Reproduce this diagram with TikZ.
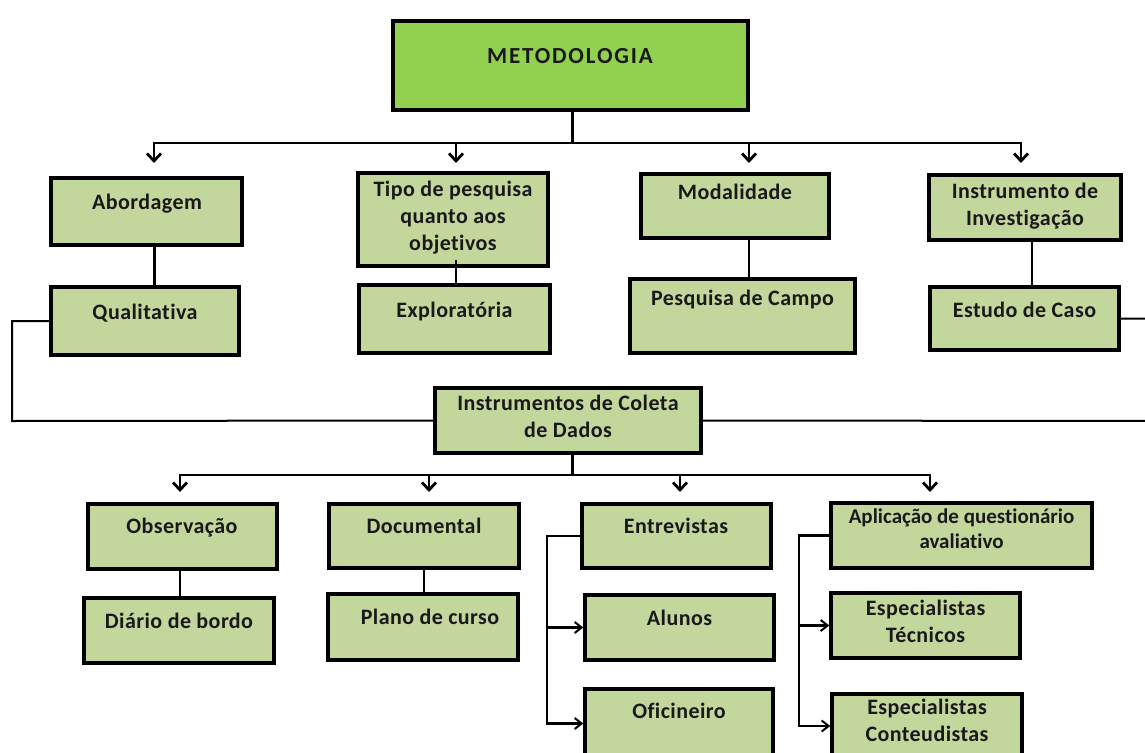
\documentclass[tikz,border=0pt]{standalone}
\usepackage{fontspec}
\setmainfont{Carlito}[Ligatures=NoCommon]
\usetikzlibrary{arrows.meta,calc}
\definecolor{boxgreen}{HTML}{C3D69B}
\definecolor{topgreen}{HTML}{92D050}
\tikzset{
  box/.style={draw=black, line width=3.5pt, fill=boxgreen, inner sep=0pt, rectangle},
  topbox/.style={box, fill=topgreen},
  lbl/.style={font=\fontsize{22}{27}\selectfont\bfseries\addfontfeature{LetterSpace=2}, align=center, inner sep=0pt, anchor=north, text=black!90, execute at begin node=\strut},
  conn/.style={line width=2pt},
  connthick/.style={line width=3pt},
  arr/.style={line width=2pt, -{Straight Barb[length=7.5pt,width=14pt,line width=2.8pt]}},
  arrs/.style={line width=2.5pt, -{Straight Barb[length=7pt,width=11pt,line width=2pt]}},
}
\begin{document}
\begin{tikzpicture}[x=1pt,y=-1pt]
\useasboundingbox (0,0) rectangle (1145,752);
\fill[white] (0,0) rectangle (1145,752);

% ---- boxes
\node[topbox, minimum width=355, minimum height=89] (meto) at (570.5,65.5) {};
\node[box, minimum width=191, minimum height=67] (abord) at (146.5,211.5) {};
\node[box, minimum width=188, minimum height=68] (quali) at (145,321) {};
\node[box, minimum width=190, minimum height=93] (tipo) at (453,219.5) {};
\node[box, minimum width=191, minimum height=68] (explo) at (454.5,319) {};
\node[box, minimum width=188, minimum height=64] (modal) at (735,206) {};
\node[box, minimum width=225, minimum height=74] (pesq) at (742.5,316) {};
\node[box, minimum width=192, minimum height=65] (instr) at (1025,207.5) {};
\node[box, minimum width=189, minimum height=63] (estudo) at (1024.5,318.5) {};
\node[box, minimum width=266, minimum height=65] (coleta) at (568,420.5) {};
\node[box, minimum width=189, minimum height=65] (obs) at (182.5,536.5) {};
\node[box, minimum width=190, minimum height=65] (diario) at (179,630.5) {};
\node[box, minimum width=190, minimum height=64] (docum) at (424,536) {};
\node[box, minimum width=190, minimum height=66] (plano) at (423,627) {};
\node[box, minimum width=189, minimum height=64] (entrev) at (676.5,536) {};
\node[box, minimum width=189, minimum height=65] (alunos) at (679.5,627.5) {};
\node[box, minimum width=188, minimum height=69] (ofic) at (679,723.5) {};
\node[box, minimum width=261, minimum height=65] (aplic) at (961.5,535.5) {};
\node[box, minimum width=189, minimum height=65] (esptec) at (925.5,625.5) {};
\node[box, minimum width=190, minimum height=64] (espcont) at (927,726) {};

% ---- coordinates
\coordinate (mj) at (572,143);
\coordinate (t1) at (154,163);
\coordinate (t2) at (456,163);
\coordinate (t3) at (749,163);
\coordinate (t4) at (1021,163);
\coordinate (cj) at (572,475);
\coordinate (u1) at (180,492);
\coordinate (u2) at (429,492);
\coordinate (u3) at (680,492);
\coordinate (u4) at (930,492);
\coordinate (lc) at (12,421);
\coordinate (rc) at (1150,421);
\coordinate (eb) at (547,0);
\coordinate (ab) at (799,0);

% ---- connectors
\draw[connthick] (meto.south -| mj) -- (mj);
\draw[arr] (mj) -| (t1);
\draw[arr] (mj) -| (t2);
\draw[arr] (mj) -| (t3);
\draw[arr] (mj) -| (t4);

\draw[connthick] (abord.south -| t1) -- (quali.north -| t1);
\draw[conn] ($(tipo.south -| t2)+(0,-8)$) -- (explo.north -| t2);
\draw[conn] (modal.south -| t3) -- (pesq.north -| t3);
\draw[conn] ([xshift=7pt]instr.south) -- ([xshift=7.5pt]estudo.north);

\draw[conn] (quali.west) -| (lc) -- (coleta.west);
\draw[conn] (estudo.east) -| (rc) -- (coleta.east);

\draw[connthick] (coleta.south -| cj) -- (cj);
\draw[arr] (cj) -| (u1);
\draw[arr] (cj) -| (u2);
\draw[arr] (cj) -| (u3);
\draw[arr] (cj) -| (u4);

\draw[conn] (obs.south -| u1) -- (diario.north -| u1);
\draw[conn] (docum.south) -- (plano.north -| docum.south);

\draw[arrs] (entrev.west) -| (ofic.west -| eb) -- (ofic.west);
\draw[arrs] (alunos.west -| eb) -- (alunos.west);
\draw[arrs] (aplic.west) -| (espcont.west -| ab) -- (espcont.west);
\draw[arrs] (esptec.west -| ab) -- (esptec.west);

% ---- texts
\node[lbl, font=\fontsize{23}{27}\selectfont\bfseries\addfontfeature{LetterSpace=8}] (metoT) at (570,44) {METODOLOGIA};
\node[lbl] (abordT) at (147,190) {Abordagem};
\node[lbl] (qualiT) at (145,300) {Qualitativa};
\node[lbl] (tipoT) at (453,181) {Tipo de pesquisa\\quanto aos\\objetivos};
\node[lbl] (exploT) at (454.5,298) {Exploratória};
\node[lbl] (modalT) at (735,180) {Modalidade};
\node[lbl] (pesqT) at (742.5,286) {Pesquisa de Campo};
\node[lbl] (instrT) at (1025,183) {Instrumento de\\Investigação};
\node[lbl] (estudoT) at (1024.5,298) {Estudo de Caso};
\node[lbl] (coletaT) at (568,395) {Instrumentos de Coleta\\de Dados};
\node[lbl] (obsT) at (182,514) {Observação};
\node[lbl] (diarioT) at (179,609) {Diário de bordo};
\node[lbl] (documT) at (424,514) {Documental};
\node[lbl] (planoT) at (430,605) {Plano de curso};
\node[lbl] (entrevT) at (676,514) {Entrevistas};
\node[lbl] (alunosT) at (679.5,606) {Alunos};
\node[lbl] (oficT) at (679,699) {Oficineiro};
\node[lbl, font=\fontsize{21}{25}\selectfont\bfseries] (aplicT) at (961.5,509) {Aplicação de questionário\\avaliativo};
\node[lbl] (esptecT) at (925.5,600) {Especialistas\\Técnicos};
\node[lbl] (espcontT) at (927,699) {Especialistas\\Conteudistas};
\end{tikzpicture}
\end{document}
